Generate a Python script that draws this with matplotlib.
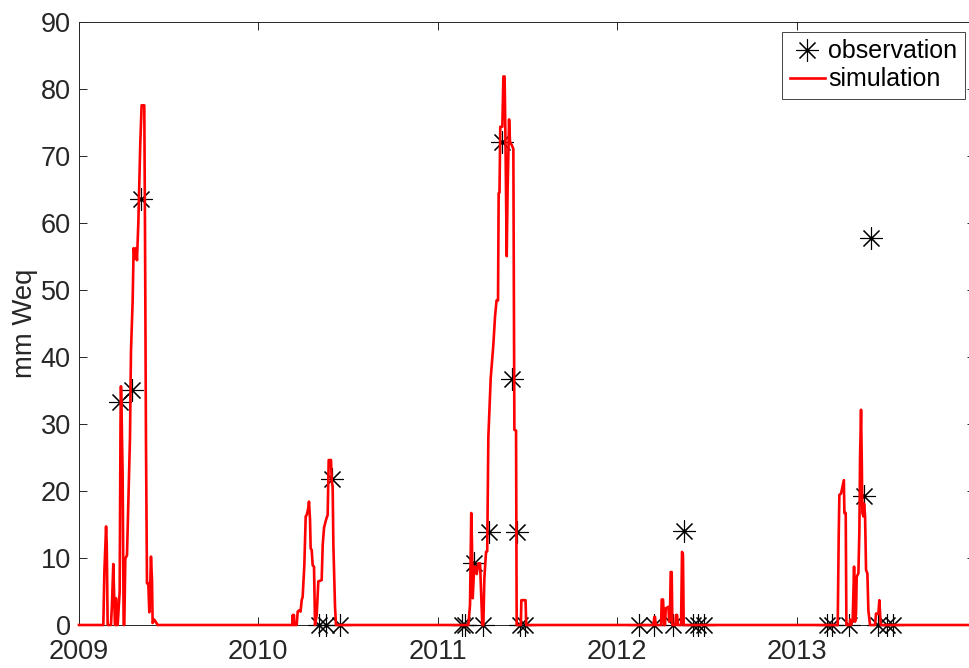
import numpy as np
import matplotlib
matplotlib.use('Agg')
import matplotlib.pyplot as plt
import matplotlib.dates as mdates

plt.rcParams['font.family'] = ['Liberation Sans', 'DejaVu Sans']

# days counted from 2009-01-01
start = np.datetime64('2009-01-01')
end_day = 1825

# observations (date offset in days, mm Weq)
obs_day = [84.1, 107.2, 126.2,
           489.2, 502.9, 515.7, 531.4,
           779.1, 785.8, 804.2, 823.1, 834.7, 861.8, 880.8, 891.0, 897.8, 908.0,
           1140.7, 1170.0, 1209.1, 1232.3, 1249.8, 1261.0, 1272.8,
           1522.2, 1532.4, 1568.2, 1598.1, 1611.7, 1627.2, 1645.6, 1657.8]
obs_val = [33.2, 35.0, 63.5,
           0, 0, 21.7, 0,
           0, 0, 9.2, 0, 13.8, 72.0, 36.7, 13.8, 0, 0,
           0, 0, 0, 14.0, 0, 0, 0,
           0, 0, 0, 19.2, 57.7, 0, 0, 0]

# simulation, one piece per melt season
sim09_day = [49.5, 51.6, 55.1, 56.5, 58.3, 65.1, 67.1, 69.8, 71.0, 73.2, 74.3, 75.3, 76.3,
             78.7, 82.8, 84.5, 85.4, 86.5, 87.5, 88.8, 90.9, 92.2, 94.3, 97.7, 101.1,
             103.8, 105.8, 109.2, 111.2, 114.0, 116.0, 118.0, 120.8, 122.8, 124.8, 127.5,
             132.9, 134.3, 136.3, 138.4, 141.1, 143.1, 145.0, 146.5, 148.6, 149.9, 153.3,
             156.0, 160.1]
sim09_val = [0, 7.8, 14.7, 12.0, 0, 0, 3.0, 9.1, 6.0, 0, 0, 4.0, 0,
             0, 5.0, 30.0, 35.6, 33.0, 28.0, 22.7, 0, 0, 9.9, 10.4, 20.0,
             28.0, 40.8, 48.3, 56.2, 54.6, 56.2, 54.4, 60.0, 66.0, 72.0, 77.5,
             77.5, 59.9, 28.0, 6.2, 6.2, 1.9, 6.0, 10.2, 6.7, 0.3, 0.8,
             0.5, 0]

sim10_day = [434.3, 435.3, 436.3, 437.4, 438.4, 443.1, 445.2, 448.6, 451.0, 453.3, 455.3,
             458.7, 461.5, 463.5, 466.9, 468.2, 470.3, 471.6, 473.7, 475.7, 478.4, 480.5,
             483.9, 487.2, 494.0, 496.1, 498.8, 502.9, 506.2, 508.3, 513.0, 514.4, 516.4,
             517.8, 521.2, 523.2]
sim10_val = [0, 1.5, 0, 1.5, 0, 0, 2.0, 2.2, 2.0, 3.7, 4.2,
             8.9, 16.2, 16.4, 17.5, 18.4, 15.7, 11.4, 11.2, 8.9, 8.7, 0,
             1.5, 6.5, 6.7, 11.9, 14.5, 15.7, 16.4, 24.6, 24.6, 21.5, 20.6,
             12.0, 2.7, 0]

sim11_day = [792.6, 796.0, 798.5, 800.0, 801.5, 804.5, 806.5, 809.6, 813.0, 816.4, 818.5,
             821.0, 823.1, 825.2, 828.6, 831.0, 833.3, 838.1, 843.5, 846.9, 850.0, 853.0,
             854.3, 856.0, 857.6, 861.8, 863.9, 866.4, 868.0, 870.7, 872.5, 875.5, 877.4,
             880.8, 884.2, 886.3, 889.7, 891.0, 899.5, 900.5, 909.0, 910.5]
sim11_val = [0, 3.0, 16.7, 12.0, 4.0, 8.7, 8.7, 7.6, 9.2, 9.2, 5.0,
             0, 0, 7.0, 10.9, 11.0, 28.0, 36.8, 41.8, 46.0, 48.4, 48.4,
             64.4, 64.5, 74.3, 74.3, 81.8, 81.8, 73.2, 55.0, 64.9, 75.4, 72.0,
             71.6, 71.0, 29.1, 29.0, 0, 0, 3.7, 3.7, 0]

sim12_day = [1169.2, 1171.3, 1172.6, 1174.0, 1185.0, 1186.2, 1189.0, 1191.0, 1193.0, 1194.5,
             1199.8, 1201.5, 1203.2, 1204.5, 1206.5, 1208.0, 1214.0, 1215.4, 1217.5, 1219.0,
             1225.6, 1227.6, 1229.5, 1231.0]
sim12_val = [0, 1.2, 1.2, 0, 0, 3.8, 3.8, 0, 0, 2.5,
             2.7, 0.5, 2.2, 7.9, 7.9, 0, 0, 1.5, 1.5, 0,
             0, 10.9, 10.5, 0]

sim13_day = [1544.5, 1546.6, 1547.9, 1551.3, 1554.7, 1557.0, 1558.1, 1560.8, 1562.2, 1569.0,
             1570.0, 1571.5, 1575.0, 1577.8, 1579.8, 1581.8, 1583.2, 1586.6, 1588.6, 1590.0,
             1592.0, 1593.4, 1594.7, 1596.8, 1598.1, 1600.2, 1602.2, 1604.9, 1606.9, 1610.3,
             1620.5, 1622.5, 1627.3, 1629.3, 1632.0]
sim13_val = [0, 13.7, 19.4, 19.6, 20.8, 21.6, 16.7, 16.7, 0, 0,
             0.8, 0, 0.8, 8.7, 0.5, 1.7, 7.2, 7.7, 14.0, 25.0,
             32.1, 25.0, 16.7, 16.2, 18.1, 16.2, 8.2, 7.7, 2.2, 0,
             0, 1.7, 1.7, 3.7, 0]

sim_day = [0] + sim09_day + sim10_day + sim11_day + sim12_day + sim13_day + [end_day]
sim_val = [0] + sim09_val + sim10_val + sim11_val + sim12_val + sim13_val + [0]

t0 = mdates.date2num(start)
obs_x = t0 + np.array(obs_day)
sim_x = t0 + np.array(sim_day)

fig = plt.figure(figsize=(9.7, 6.68), dpi=100)
ax = fig.add_axes([79 / 970, 43 / 668, 896.5 / 970, 603.5 / 668])

ax.plot(obs_x, obs_val, linestyle='none', marker=(8, 2, 0), markersize=16,
        markeredgewidth=0.8, color='k', label='observation', zorder=3, clip_on=False)
ax.plot(sim_x, sim_val, color='#ff0000', linewidth=1.9, label='simulation',
        zorder=4, clip_on=False)

ax.set_xlim(t0, t0 + end_day)
ax.set_ylim(0, 90)
ax.set_yticks(np.arange(0, 91, 10))
ax.xaxis.set_major_locator(mdates.YearLocator())
ax.xaxis.set_major_formatter(mdates.DateFormatter('%Y'))

dark = '#262626'
for s in ax.spines.values():
    s.set_color(dark)
    s.set_linewidth(0.7)
ax.tick_params(direction='in', length=6, width=0.7, top=True, right=True,
               labelsize=19.5, colors=dark)
ax.tick_params(axis='x', pad=10)
ax.tick_params(axis='y', pad=6)

ax.set_ylabel('mm Weq', fontsize=19.8, color=dark)
ax.yaxis.set_label_coords(-0.046, 0.5)

leg = ax.legend(loc='upper right',
                bbox_to_anchor=((965 - 79) / 896.5, (625 - 32) / 603.5),
                fontsize=18, fancybox=False, edgecolor=dark, framealpha=1,
                borderaxespad=0, handlelength=1.4, handletextpad=0.15,
                labelspacing=0.15, borderpad=0.3)
leg.get_frame().set_linewidth(0.6)

fig.savefig('out.png', dpi=100)
